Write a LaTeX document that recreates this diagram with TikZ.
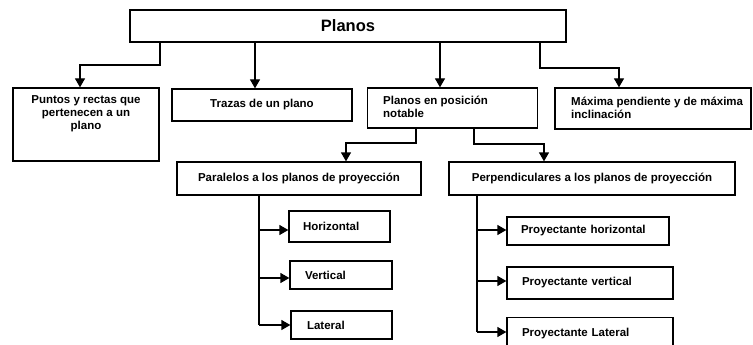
\documentclass[tikz,border=0pt]{standalone}
\usepackage{fontspec}
\setmainfont{Liberation Sans}
\usetikzlibrary{arrows.meta}
\begin{document}
\begin{tikzpicture}[x=1pt,y=-1pt,
  box/.style={draw, line width=1.3pt, inner sep=0pt},
  txt/.style={font=\bfseries\fontsize{11.5}{13}\selectfont, inner sep=0pt},
  arr/.style={-{Triangle[width=10pt,length=9pt]}, line width=1.3pt},
  ln/.style={line width=1.3pt}]
\useasboundingbox (0,0) rectangle (753,345);
% top
\node[box, minimum width=436, minimum height=32, font=\bfseries\fontsize{16.5}{18}\selectfont] (top) at (348,26) {Planos};
% level 1
\node[box, minimum width=146, minimum height=73] (b1) at (86,124.5) {};
\node[txt, align=center, anchor=north] (t1) at (86,95) {Puntos y rectas que\\pertenecen a un\\plano};
\node[box, txt, minimum width=180, minimum height=32] (b2) at (262,105) {Trazas de un plano};
\node[box, minimum width=170, minimum height=40] (b3) at (452.5,108) {};
\node[txt, align=left, anchor=north west] (t3) at (383,96) {Planos en posición\\notable};
\node[box, minimum width=196, minimum height=41] (b4) at (653,108.5) {};
\node[txt, align=left, anchor=north west] (t4) at (571,97) {Máxima pendiente y de máxima\\inclinación};
% level 2
\node[box, txt, minimum width=244, minimum height=33] (pa) at (299,178.5) {Paralelos a los planos de proyección};
\node[box, txt, minimum width=286, minimum height=33] (pe) at (592,178.5) {Perpendiculares a los planos de proyección};
% level 3 left
\node[box, txt, minimum width=101, minimum height=31, text width=73, align=left] (h) at (339.5,226.5) {Horizontal};
\node[box, txt, minimum width=102, minimum height=28, text width=72, align=left] (v) at (341,275) {Vertical};
\node[box, txt, minimum width=101, minimum height=28, text width=69, align=left] (l) at (341.5,325) {Lateral};
% level 3 right
\node[box, txt, minimum width=162, minimum height=28, text width=134, align=left] (ph) at (588,231) {Proyectante horizontal};
\node[box, txt, minimum width=166, minimum height=32, text width=136, align=left] (pv) at (590,283) {Proyectante vertical};
\node[box, txt, minimum width=166, minimum height=32, text width=136, align=left, anchor=north] (pl) at (590,316.5) {Proyectante Lateral};
% connectors
\draw[arr] (top.south -| 160,0) |- (80,65) -- (b1.north -| 80,0);
\draw[arr] (top.south -| 255,0) -- (b2.north -| 255,0);
\draw[arr] (top.south -| 440,0) -- (b3.north -| 440,0);
\draw[arr] (top.south -| 540,0) |- (619,68) -- (b4.north -| 619,0);
\draw[arr] (b3.south -| 416,0) |- (346,143) -- (pa.north -| 346,0);
\draw[arr] (b3.south -| 474,0) |- (544,144) -- (pe.north -| 544,0);
\coordinate (pj) at (259,325);
\draw[ln] (pa.south -| 259,0) -- (pj);
\draw[arr] (259,230) -- (h.west |- 0,230);
\draw[arr] (259,278) -- (v.west |- 0,278);
\draw[arr] (pj) -- (l.west |- pj);
\coordinate (qj) at (477,332);
\draw[ln] (pe.south -| 477,0) -- (qj);
\draw[arr] (477,230) -- (ph.west |- 0,230);
\draw[arr] (477,281) -- (pv.west |- 0,281);
\draw[arr] (qj) -- (pl.west |- qj);
\end{tikzpicture}
\end{document}
